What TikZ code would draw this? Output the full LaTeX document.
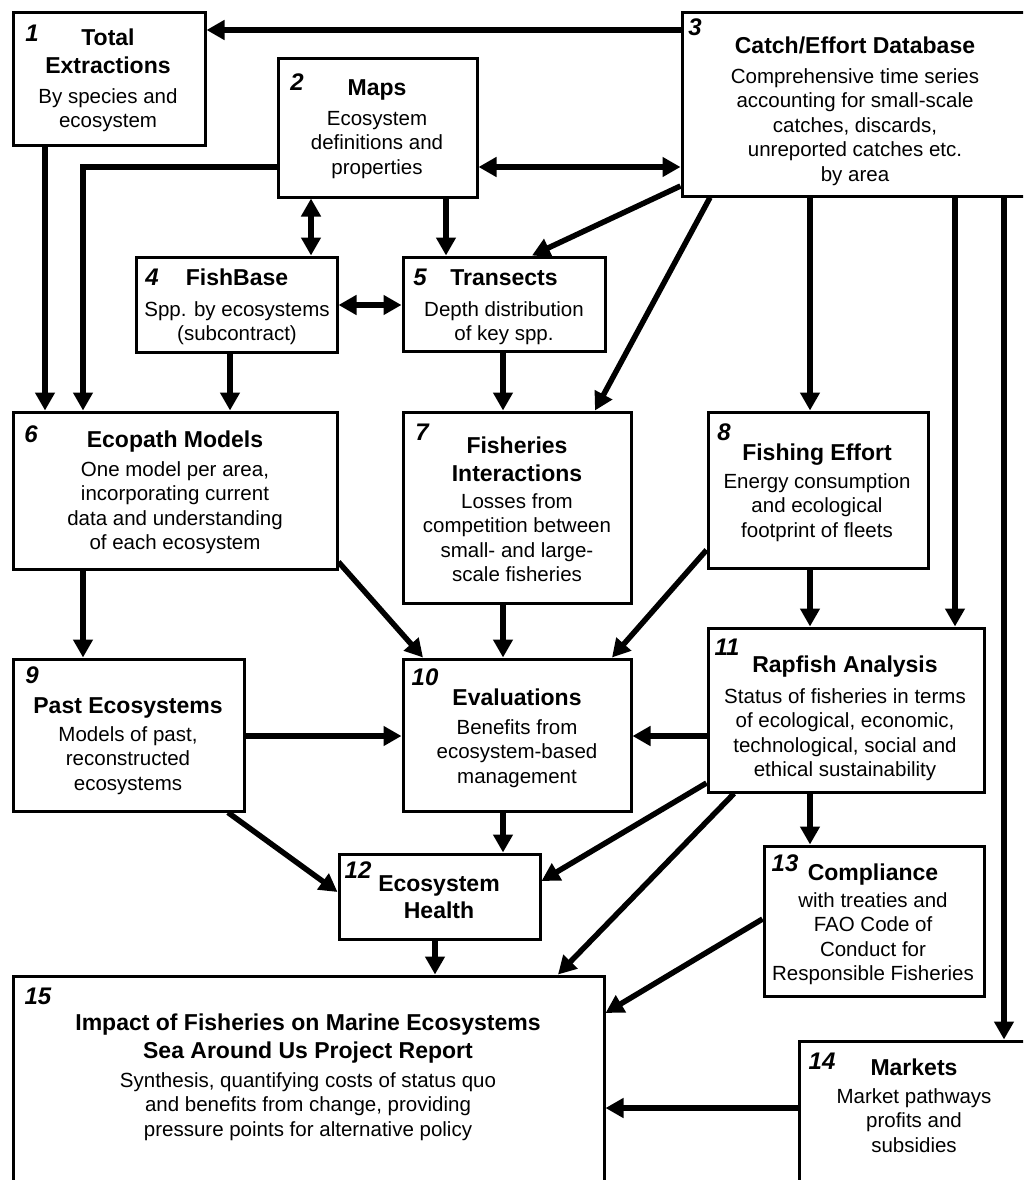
\documentclass[tikz,border=0pt]{standalone}
\usepackage{fontspec}
\setmainfont{Liberation Sans}
\usetikzlibrary{arrows.meta}
\begin{document}
\begin{tikzpicture}[x=1pt,y=-1pt,
  box/.style={draw, line width=3pt, fill=white, inner sep=0pt},
  arr/.style={line width=5.5pt, -{Triangle[length=18pt,width=19pt]}},
  darr/.style={line width=5.5pt, {Triangle[length=18pt,width=19pt]}-{Triangle[length=18pt,width=19pt]}},
  ttl/.style={font=\fontsize{23}{27.5}\selectfont\bfseries, align=center, inner sep=0pt, anchor=north},
  bod/.style={font=\fontsize{20.5}{24.5}\selectfont, align=center, inner sep=0pt, anchor=north},
  num/.style={font=\fontsize{24}{24}\selectfont\bfseries\itshape, inner sep=0pt}]
\clip (0,0) rectangle (1023,1180);
\fill[white] (0,0) rectangle (1023,1180);
% boxes
\node[box, minimum width=192pt, minimum height=132pt] (b1) at (109,79) {};
\node[box, minimum width=199pt, minimum height=138pt] (b2) at (377.5,128) {};
\node[box, minimum width=358pt, minimum height=183pt] (b3) at (861,104.5) {};
\node[box, minimum width=201pt, minimum height=95pt] (b4) at (236.5,304.5) {};
\node[box, minimum width=202pt, minimum height=94pt] (b5) at (504,304) {};
\node[box, minimum width=324pt, minimum height=157pt] (b6) at (175,490.5) {};
\node[box, minimum width=228pt, minimum height=191pt] (b7) at (517,507.5) {};
\node[box, minimum width=220pt, minimum height=156pt] (b8) at (818,490) {};
\node[box, minimum width=231pt, minimum height=152pt] (b9) at (128.5,735) {};
\node[box, minimum width=228pt, minimum height=152pt] (b10) at (517,735) {};
\node[box, minimum width=276pt, minimum height=164pt] (b11) at (846,710) {};
\node[box, minimum width=201pt, minimum height=85pt] (b12) at (439.5,896.5) {};
\node[box, minimum width=220pt, minimum height=150pt] (b13) at (874,921) {};
\node[box, minimum width=241pt, minimum height=159pt] (b14) at (919.5,1120.5) {};
\node[box, minimum width=591pt, minimum height=224pt] (b15) at (308.5,1088) {};
% connectors
\draw[arr] (b3.west |- 0,30) -- (b1.east |- 0,30);
\draw[darr] (b2.east |- 0,167) -- (b3.west |- 0,167);
\draw[arr] (b1.south -| 45,0) -- (b6.north -| 45,0);
\draw[arr] (b2.west |- 0,167) -| (b6.north -| 83,0);
\draw[darr] (b2.south -| 311,0) -- (b4.north -| 311,0);
\draw[arr] (b2.south -| 446,0) -- (b5.north -| 446,0);
\draw[arr] (b3.west |- 0,186) -- (b5.north -| 532,0);
\draw[arr] (b3.south -| 710,0) -- (b7.north -| 595,0);
\draw[arr] (b3.south -| 810,0) -- (b8.north -| 810,0);
\draw[arr] (b3.south -| 955,0) -- (b11.north -| 955,0);
\draw[arr] (b3.south -| 1004,0) -- (b14.north -| 1004,0);
\draw[darr] (b4.east |- 0,305) -- (b5.west |- 0,305);
\draw[arr] (b4.south -| 230,0) -- (b6.north -| 230,0);
\draw[arr] (b5.south -| 503,0) -- (b7.north -| 503,0);
\draw[arr] (b6.south -| 83,0) -- (b9.north -| 83,0);
\draw[arr] (b6.east |- 0,562) -- (b10.north -| 423,0);
\draw[arr] (b7.south -| 503,0) -- (b10.north -| 503,0);
\draw[arr] (b8.west |- 0,550) -- (b10.north -| 612,0);
\draw[arr] (b8.south -| 810,0) -- (b11.north -| 810,0);
\draw[arr] (b9.east |- 0,736) -- (b10.west |- 0,736);
\draw[arr] (b11.west |- 0,736) -- (b10.east |- 0,736);
\draw[arr] (b9.south -| 228,0) -- (b12.west |- 0,892);
\draw[arr] (b10.south -| 503,0) -- (b12.north -| 503,0);
\draw[arr] (b11.west |- 0,783) -- (b12.east |- 0,881);
\draw[arr] (b11.south -| 734,0) -- (b15.north -| 558,0);
\draw[arr] (b11.south -| 810,0) -- (b13.north -| 810,0);
\draw[arr] (b12.south -| 435,0) -- (b15.north -| 435,0);
\draw[arr] (b13.west |- 0,919) -- (b15.east |- 0,1013);
\draw[arr] (b14.west |- 0,1108) -- (b15.east |- 0,1108);
% texts
\node[num] (n1) at (32,33) {1};
\node[ttl] (t1) at (108,29) {Total\\Extractions};
\node[bod] (d1) at (108,88) {By species and\\ecosystem};
\node[num] (n2) at (297,82) {2};
\node[ttl] (t2) at (377,79) {Maps};
\node[bod] (d2) at (377,111) {Ecosystem\\definitions and\\properties};
\node[num] (n3) at (695,27) {3};
\node[ttl] (t3) at (855,37) {Catch/Effort Database};
\node[bod] (d3) at (855,68) {Comprehensive time series\\accounting for small-scale\\catches, discards,\\unreported catches etc.\\by area};
\node[num] (n4) at (152,277) {4};
\node[ttl] (t4) at (237,269) {FishBase};
\node[bod] (d4) at (237,301) {Spp. by ecosystems\\(subcontract)};
\node[num] (n5) at (420,277) {5};
\node[ttl] (t5) at (504,269) {Transects};
\node[bod] (d5) at (504,301) {Depth distribution\\of key spp.};
\node[num] (n6) at (31,434) {6};
\node[ttl] (t6) at (175,431) {Ecopath Models};
\node[bod] (d6) at (175,461) {One model per area,\\incorporating current\\data and understanding\\of each ecosystem};
\node[num] (n7) at (422,432) {7};
\node[ttl] (t7) at (517,437) {Fisheries\\Interactions};
\node[bod] (d7) at (517,493) {Losses from\\competition between\\small- and large-\\scale fisheries};
\node[num] (n8) at (724,432) {8};
\node[ttl] (t8) at (817,444) {Fishing Effort};
\node[bod] (d8) at (817,473) {Energy consumption\\and ecological\\footprint of fleets};
\node[num] (n9) at (32,675) {9};
\node[ttl] (t9) at (128,697) {Past Ecosystems};
\node[bod] (d9) at (128,726) {Models of past,\\reconstructed\\ecosystems};
\node[num] (n10) at (425,677) {10};
\node[ttl] (t10) at (517,689) {Evaluations};
\node[bod] (d10) at (517,719) {Benefits from\\ecosystem-based\\management};
\node[num] (n11) at (727,647) {11};
\node[ttl] (t11) at (845,656) {Rapfish Analysis};
\node[bod] (d11) at (845,688) {Status of fisheries in terms\\of ecological, economic,\\technological, social and\\ethical sustainability};
\node[num] (n12) at (358,870) {12};
\node[ttl] (t12) at (439,875) {Ecosystem\\Health};
\node[num] (n13) at (785,863) {13};
\node[ttl] (t13) at (873,864) {Compliance};
\node[bod] (d13) at (873,892) {with treaties and\\FAO Code of\\Conduct for\\Responsible Fisheries};
\node[num] (n14) at (822,1061) {14};
\node[ttl] (t14) at (914,1059) {Markets};
\node[bod] (d14) at (914,1088) {Market pathways\\profits and\\subsidies};
\node[num] (n15) at (38,996) {15};
\node[ttl] (t15) at (308,1014) {Impact of Fisheries on Marine Ecosystems\\Sea Around Us Project Report};
\node[bod] (d15) at (308,1072) {Synthesis, quantifying costs of status quo\\and benefits from change, providing\\pressure points for alternative policy};
\end{tikzpicture}
\end{document}
